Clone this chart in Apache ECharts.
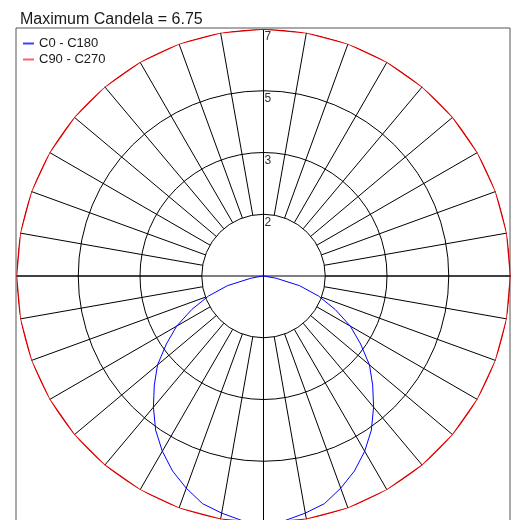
<!DOCTYPE html>
<html>
<head>
<meta charset="utf-8">
<script src="https://cdn.jsdelivr.net/npm/echarts@6/dist/echarts.min.js"></script>
<style>
html,body{margin:0;padding:0;background:#fff;}
#main{width:514px;height:520px;}
</style>
</head>
<body>
<div id="main"></div>
<script>
// gamma angles from nadir (deg) and intensities
var gammaAngles=[0,5,10,15,20,25,30,35,40,45,50,55,60,65,70,75,80,85,90];
var c0Values=[6.75,6.71,6.58,6.44,6.17,5.88,5.53,5.14,4.68,4.22,3.78,3.24,2.74,2.16,1.60,1.02,0.35,0.05,0];
var c180Values=[6.75,6.71,6.58,6.44,6.17,5.88,5.53,5.14,4.68,4.22,3.78,3.24,2.74,2.16,1.60,1.02,0.35,0.05,0];
var c90Angles=[0,10,20,30,40,50,60,70,80,90,100,110,120,130,140,150,160,170,180,190,200,210,220,230,240,250,260,270,280,290,300,310,320,330,340,350,360];
var c90Values=[6.75,6.75,6.75,6.75,6.75,6.75,6.75,6.75,6.75,6.75,6.75,6.75,6.75,6.75,6.75,6.75,6.75,6.75,6.75,6.75,6.75,6.75,6.75,6.75,6.75,6.75,6.75,6.75,6.75,6.75,6.75,6.75,6.75,6.75,6.75,6.75,6.75];
var maxCandela=6.75;

var chart=echarts.init(document.getElementById('main'));

// polar angle 180 = nadir (bottom), clockwise from top
var blueData=[];
for(var a=gammaAngles.length-1;a>=0;a--){
    blueData.push([c180Values[a],180-gammaAngles[a]]);
}
for(var a=1;a<gammaAngles.length;a++){
    blueData.push([c0Values[a],180+gammaAngles[a]]);
}
var redData=[];
for(var a=0;a<c90Angles.length;a++){
    redData.push([c90Values[a],c90Angles[a]]);
}

var center=[263.5,276];
var option={
    animation:false,
    textStyle:{fontFamily:'Liberation Sans, Arial, sans-serif'},
    title:{
        text:'Maximum Candela = '+maxCandela,
        left:15,
        top:7,
        textStyle:{fontSize:16,fontWeight:'normal',color:'#1a1a1a'}
    },
    legend:{
        orient:'vertical',
        left:18,
        top:32,
        itemGap:3,
        icon:'rect',
        itemWidth:11,
        itemHeight:2,
        textStyle:{fontSize:13,color:'#1a1a1a'},
        data:[
            {name:'C0 - C180',itemStyle:{color:'#4040ff'}},
            {name:'C90 - C270',itemStyle:{color:'#ff6060'}}
        ]
    },
    graphic:[{
        type:'rect',
        shape:{x:16,y:28,width:494,height:494},
        style:{fill:null,stroke:'#555',lineWidth:1},
        z:-1
    }],
    polar:[
        {center:center,radius:[0,247]},
        {center:center,radius:[61.75,247]}
    ],
    radiusAxis:[
        {
            polarIndex:0,
            type:'value',
            min:0,
            max:maxCandela,
            interval:maxCandela/4,
            axisLine:{show:false},
            axisTick:{show:false},
            axisLabel:{
                show:true,
                color:'#333',
                fontSize:12,
                align:'left',
                verticalAlign:'top',
                margin:-1,
                padding:[2,0,0,0],
                formatter:function(v){return v===0?'':String(Math.round(v));}
            },
            splitLine:{show:true,lineStyle:{color:['transparent','#000','#000','#000','transparent'],width:1}}
        },
        {
            polarIndex:1,
            type:'value',
            min:0,
            max:1,
            show:false
        }
    ],
    angleAxis:[
        {
            polarIndex:0,
            type:'value',
            min:0,
            max:360,
            interval:90,
            startAngle:90,
            clockwise:true,
            axisLine:{show:false},
            axisTick:{show:false},
            axisLabel:{show:false},
            splitLine:{show:true,lineStyle:{color:'#000',width:1}}
        },
        {
            polarIndex:1,
            type:'value',
            min:0,
            max:360,
            interval:10,
            startAngle:90,
            clockwise:true,
            axisLine:{show:false},
            axisTick:{show:false},
            axisLabel:{show:false},
            splitLine:{show:true,lineStyle:{color:'#000',width:1}}
        }
    ],
    series:[
        {
            name:'C0 - C180',
            type:'line',
            coordinateSystem:'polar',
            polarIndex:0,
            symbol:'none',
            lineStyle:{color:'#0000ff',width:1},
            itemStyle:{color:'#0000ff'},
            data:blueData,
            z:5
        },
        {
            name:'C90 - C270',
            type:'line',
            coordinateSystem:'polar',
            polarIndex:0,
            symbol:'none',
            lineStyle:{color:'#dd0000',width:1.5},
            itemStyle:{color:'#dd0000'},
            data:redData,
            z:5
        }
    ]
};
chart.setOption(option);
</script>
</body>
</html>
